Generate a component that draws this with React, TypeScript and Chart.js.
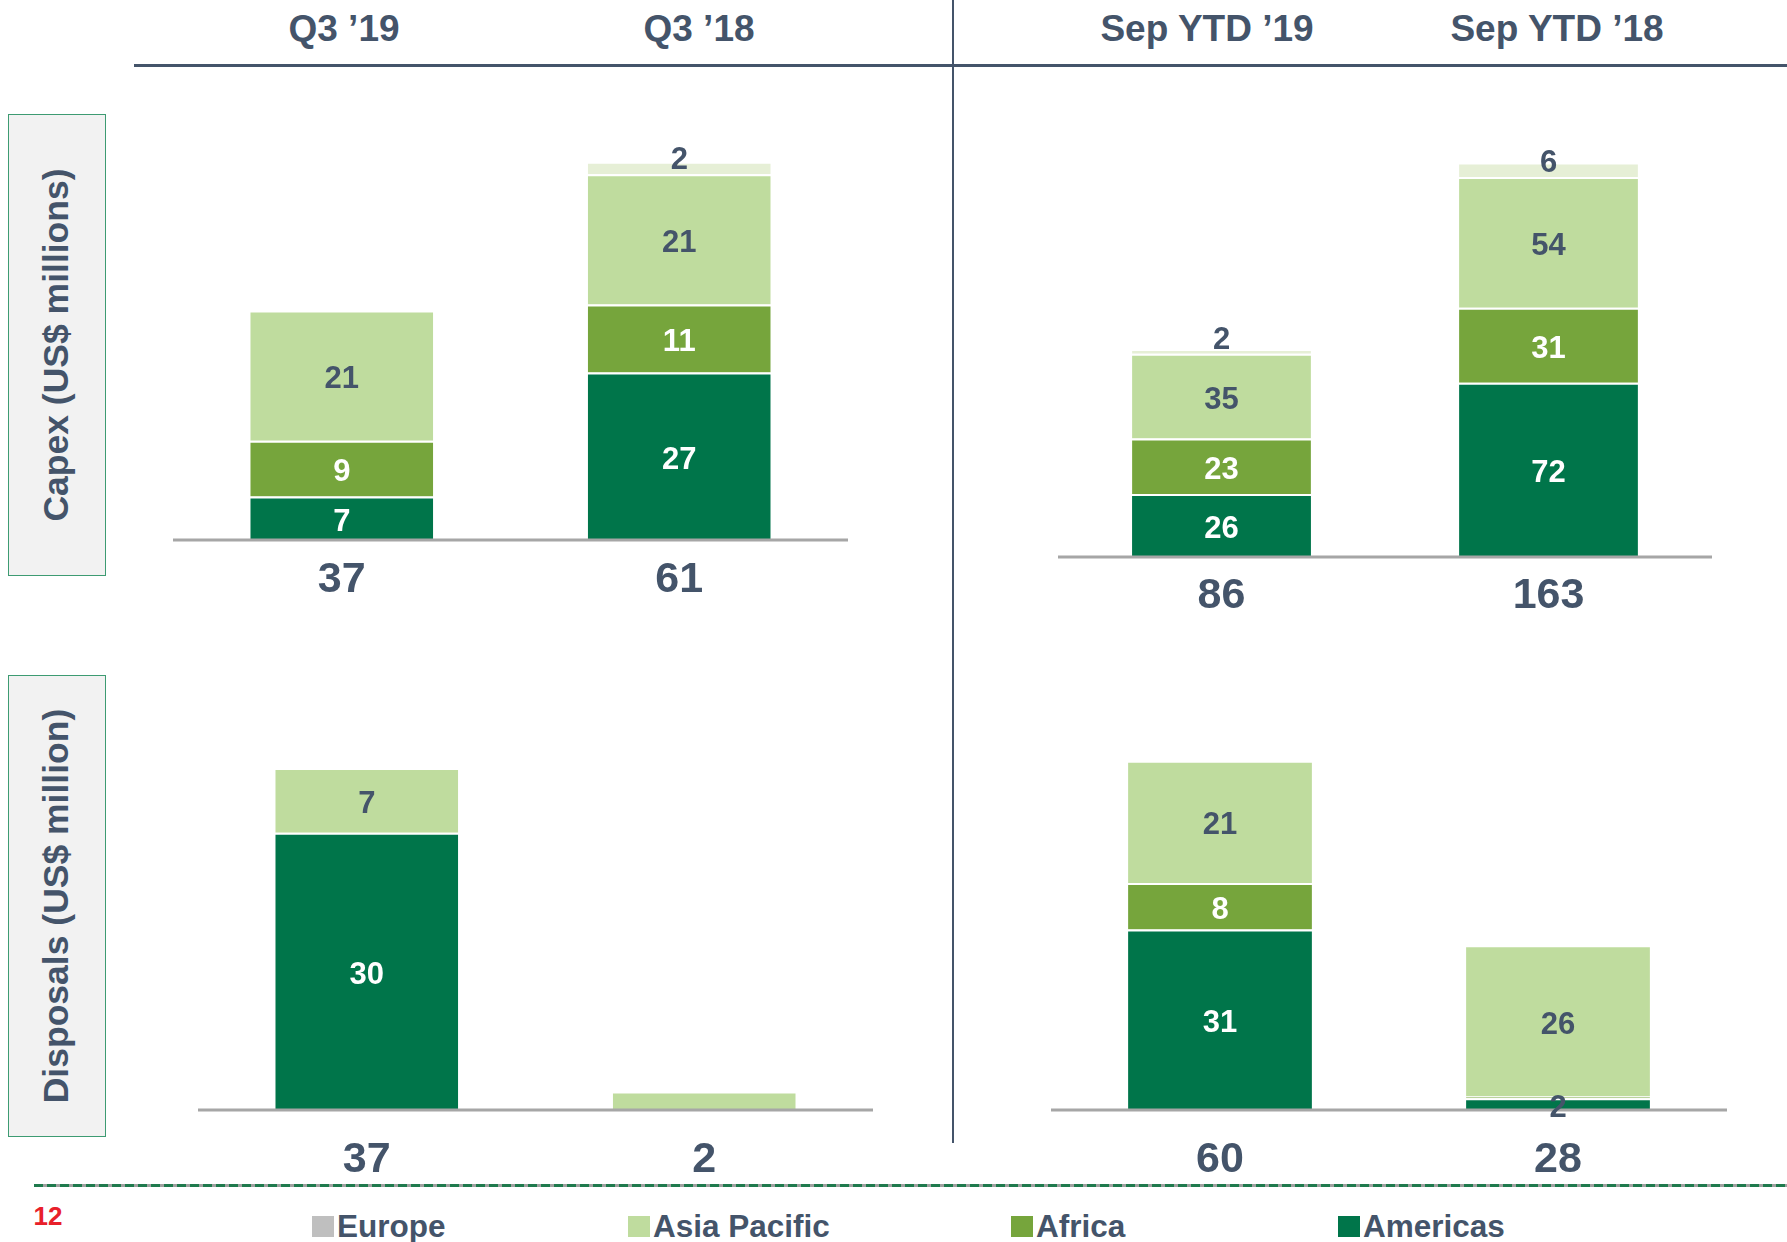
import React, { useEffect, useRef } from "react";
import { Chart, registerables } from "chart.js";

Chart.register(...registerables);

// ---- Data ----
const seriesNames = ["Americas", "Africa", "Asia Pacific", "Europe"];
const seriesColors = ["#00754a", "#76a53c", "#bfdc9e", "#e6efd6"];

const legendLabels = ["Europe", "Asia Pacific", "Africa", "Americas"];
const legendColors = ["#bfbfbf", "#bfdc9e", "#76a53c", "#00754a"];

const headerLabels = ["Q3 ’19", "Q3 ’18", "Sep YTD ’19", "Sep YTD ’18"];

const capexQ3Categories = ["Q3 ’19", "Q3 ’18"];
const capexQ3Americas = [7, 27];
const capexQ3Africa = [9, 11];
const capexQ3AsiaPacific = [21, 21];
const capexQ3Europe = [0, 2];
const capexQ3Totals = [37, 61];

const capexYtdCategories = ["Sep YTD ’19", "Sep YTD ’18"];
const capexYtdAmericas = [26, 72];
const capexYtdAfrica = [23, 31];
const capexYtdAsiaPacific = [35, 54];
const capexYtdEurope = [2, 6];
const capexYtdTotals = [86, 163];

const dispQ3Categories = ["Q3 ’19", "Q3 ’18"];
const dispQ3Americas = [30, 0];
const dispQ3Africa = [0, 0];
const dispQ3AsiaPacific = [7, 2];
const dispQ3Europe = [0, 0];
const dispQ3Totals = [37, 2];

const dispYtdCategories = ["Sep YTD ’19", "Sep YTD ’18"];
const dispYtdAmericas = [31, 2];
const dispYtdAfrica = [8, 0.3];
const dispYtdAsiaPacific = [21, 26];
const dispYtdEurope = [0, 0];
const dispYtdTotals = [60, 28];

const pageTitleNumber = "12";
const capexAxisTitle = "Capex (US$ millions)";
const disposalsAxisTitle = "Disposals (US$ million)";

// ---- Styles ----
const FONT = '"Liberation Sans", Arial, Helvetica, sans-serif';
const DARK = "#44546a";

type PanelProps = {
  left: number;
  top: number;
  width: number;
  height: number;
  baselineY: number;
  yMax: number;
  barPct: number;
  categories: string[];
  series: number[][];
  totals: number[];
  totalOffset: number;
};

function makeLabelPlugin(totals: number[], totalOffset: number) {
  return {
    id: "segLabels",
    afterDatasetsDraw(chart: any) {
      const ctx = chart.ctx as CanvasRenderingContext2D;
      const yScale = chart.scales.y;
      const area = chart.chartArea;
      const y0 = yScale.getPixelForValue(0);
      // baseline
      ctx.save();
      ctx.strokeStyle = "#a6a6a6";
      ctx.lineWidth = 3;
      ctx.beginPath();
      ctx.moveTo(area.left, y0);
      ctx.lineTo(area.right, y0);
      ctx.stroke();
      ctx.restore();

      ctx.save();
      ctx.textAlign = "center";
      chart.data.datasets.forEach((ds: any, di: number) => {
        const meta = chart.getDatasetMeta(di);
        meta.data.forEach((el: any, i: number) => {
          const v = ds.data[i];
          if (!v || v < 1) return;
          const top = el.y;
          const bottom = el.base;
          const h = Math.abs(bottom - top);
          ctx.font = `bold 31px ${FONT}`;
          if (di === 3) {
            ctx.fillStyle = DARK;
            ctx.textBaseline = "alphabetic";
            ctx.fillText(String(v), el.x, bottom - 5);
          } else {
            if (di === 2 && h < 20) return;
            const light = di <= 1 && h >= 22;
            ctx.fillStyle = light ? "#ffffff" : DARK;
            ctx.textBaseline = "middle";
            ctx.fillText(String(v), el.x, (top + bottom) / 2 + 4);
          }
        });
      });
      // totals
      const meta0 = chart.getDatasetMeta(0);
      ctx.font = `bold 43px ${FONT}`;
      ctx.fillStyle = DARK;
      ctx.textBaseline = "middle";
      meta0.data.forEach((el: any, i: number) => {
        ctx.fillText(String(totals[i]), el.x, y0 + totalOffset);
      });
      ctx.restore();
    },
  };
}

function Panel(p: PanelProps) {
  const ref = useRef<HTMLCanvasElement>(null);
  useEffect(() => {
    if (!ref.current) return;
    const chart = new Chart(ref.current, {
      type: "bar",
      data: {
        labels: p.categories,
        datasets: p.series.map((d, i) => ({
          label: seriesNames[i],
          data: d,
          backgroundColor: seriesColors[i],
          borderColor: "#ffffff",
          borderWidth: { top: 2, bottom: 0, left: 0, right: 0 },
          borderSkipped: false,
          barPercentage: p.barPct,
          categoryPercentage: 1,
        })),
      },
      options: {
        animation: false,
        responsive: false,
        devicePixelRatio: 1,
        layout: {
          padding: { top: 0, left: 0, right: 0, bottom: p.top + p.height - p.baselineY },
        },
        plugins: { legend: { display: false }, tooltip: { enabled: false } },
        scales: {
          x: { stacked: true, display: false },
          y: { stacked: true, display: false, min: 0, max: p.yMax },
        },
      },
      plugins: [makeLabelPlugin(p.totals, p.totalOffset)],
    } as any);
    return () => chart.destroy();
  }, []);
  return (
    <canvas
      ref={ref}
      width={p.width}
      height={p.height}
      style={{ position: "absolute", left: p.left, top: p.top, width: p.width, height: p.height }}
    />
  );
}

const centered = (x: number, y: number, extra: React.CSSProperties = {}): React.CSSProperties => ({
  position: "absolute",
  left: x,
  top: y,
  transform: "translate(-50%, -50%)",
  lineHeight: 1,
  whiteSpace: "nowrap",
  fontFamily: FONT,
  fontWeight: "bold",
  color: DARK,
  ...extra,
});

export default function App() {
  const headerX = [344, 699, 1207, 1557];
  const legendX = [312, 628, 1011, 1338];
  return (
    <div
      style={{
        position: "absolute",
        left: 0,
        top: 0,
        width: 1787,
        height: 1242,
        background: "#ffffff",
        overflow: "hidden",
        fontFamily: FONT,
      }}
    >
      {/* headers */}
      {headerLabels.map((t, i) => (
        <div key={t} style={centered(headerX[i], 28, { fontSize: 37 })}>
          {t}
        </div>
      ))}
      <div style={{ position: "absolute", left: 134, top: 64, width: 1653, height: 3, background: "#44546a" }} />
      <div style={{ position: "absolute", left: 952, top: 0, width: 2, height: 1143, background: "#44546a" }} />

      {/* side boxes */}
      <div
        style={{
          position: "absolute",
          left: 8,
          top: 114,
          width: 96,
          height: 460,
          background: "#f2f2f2",
          border: "1.5px solid #3d9b72",
        }}
      />
      <div style={centered(57, 345, { fontSize: 35.5, transform: "translate(-50%, -50%) rotate(-90deg)" })}>
        {capexAxisTitle}
      </div>
      <div
        style={{
          position: "absolute",
          left: 8,
          top: 675,
          width: 96,
          height: 460,
          background: "#f2f2f2",
          border: "1.5px solid #3d9b72",
        }}
      />
      <div style={centered(57, 906, { fontSize: 35.5, transform: "translate(-50%, -50%) rotate(-90deg)" })}>
        {disposalsAxisTitle}
      </div>

      {/* charts */}
      <Panel
        left={173}
        top={110}
        width={675}
        height={500}
        baselineY={540}
        yMax={430 / 6.2}
        barPct={0.542}
        categories={capexQ3Categories}
        series={[capexQ3Americas, capexQ3Africa, capexQ3AsiaPacific, capexQ3Europe]}
        totals={capexQ3Totals}
        totalOffset={40}
      />
      <Panel
        left={1058}
        top={110}
        width={654}
        height={510}
        baselineY={557}
        yMax={447 / 2.42}
        barPct={0.547}
        categories={capexYtdCategories}
        series={[capexYtdAmericas, capexYtdAfrica, capexYtdAsiaPacific, capexYtdEurope]}
        totals={capexYtdTotals}
        totalOffset={39}
      />
      <Panel
        left={198}
        top={700}
        width={675}
        height={480}
        baselineY={1110}
        yMax={410 / 9.24}
        barPct={0.542}
        categories={dispQ3Categories}
        series={[dispQ3Americas, dispQ3Africa, dispQ3AsiaPacific, dispQ3Europe]}
        totals={dispQ3Totals}
        totalOffset={50}
      />
      <Panel
        left={1051}
        top={700}
        width={676}
        height={480}
        baselineY={1110}
        yMax={410 / 5.82}
        barPct={0.544}
        categories={dispYtdCategories}
        series={[dispYtdAmericas, dispYtdAfrica, dispYtdAsiaPacific, dispYtdEurope]}
        totals={dispYtdTotals}
        totalOffset={50}
      />

      {/* dashed footer line */}
      <div
        style={{
          position: "absolute",
          left: 34,
          top: 1184,
          width: 1753,
          height: 3,
          background: "repeating-linear-gradient(90deg, #1f7a4d 0 9px, #a0a0a0 9px 13px)",
        }}
      />
      <div style={centered(48, 1216, { fontSize: 26, color: "#e8202a" })}>{pageTitleNumber}</div>

      {/* legend */}
      {legendLabels.map((t, i) => (
        <React.Fragment key={t}>
          <div
            style={{
              position: "absolute",
              left: legendX[i],
              top: 1216,
              width: 22,
              height: 21,
              background: legendColors[i],
            }}
          />
          <div
            style={{
              position: "absolute",
              left: legendX[i] + 25,
              top: 1227,
              transform: "translateY(-50%)",
              lineHeight: 1,
              whiteSpace: "nowrap",
              fontFamily: FONT,
              fontWeight: "bold",
              fontSize: 31.5,
              color: DARK,
            }}
          >
            {t}
          </div>
        </React.Fragment>
      ))}
    </div>
  );
}
